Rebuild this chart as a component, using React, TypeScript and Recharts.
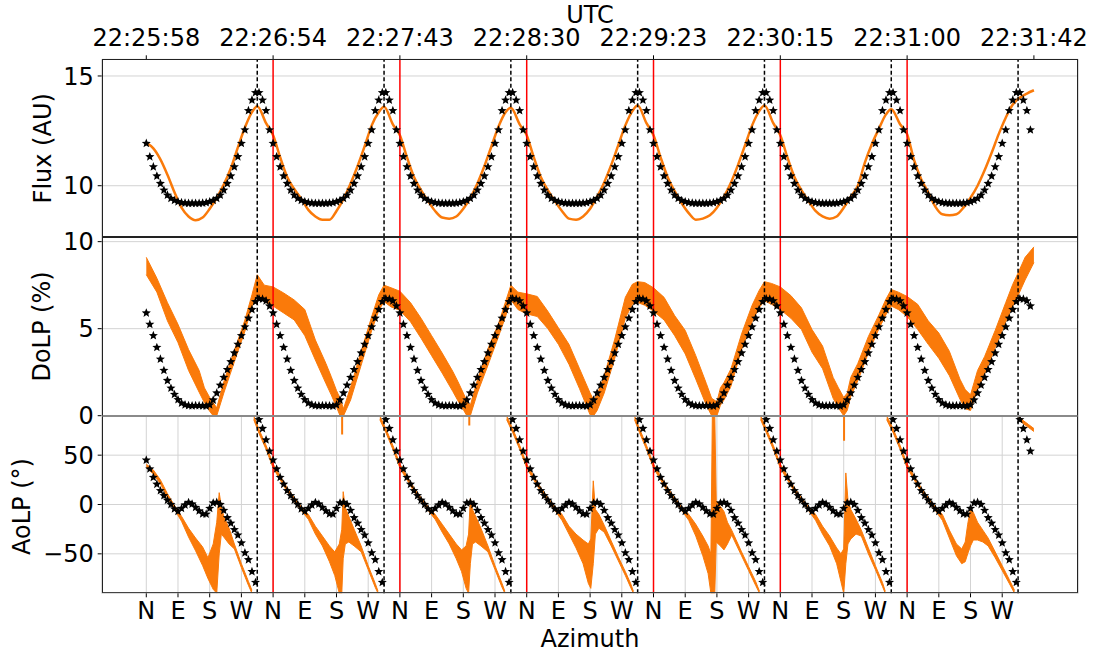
import { ComposedChart, Line, Area, Scatter, XAxis, YAxis, CartesianGrid, ReferenceLine } from 'recharts'

const W = 1096
const H = 657
const PLOT_LEFT = 101.7
const PLOT_RIGHT = 1078.3
const FLUX_TOP = 59.3
const DOLP_TOP = 237.3
const AOLP_TOP = 415.7
const AOLP_BOTTOM = 593.3
const Y_AXIS_W = 60
const FONT = 'DejaVu Sans'
const ORANGE = '#fa7a0a'

// x axis is accumulated azimuth (deg), one rotation = 360
const ROTATIONS = 7
const X_DOMAIN = [-126.6, 2646]
const CARDINALS = ['N', 'E', 'S', 'W']
const CARDINAL_AZ = [0, 90, 180, 270]
const UTC_LABELS = ['22:25:58', '22:26:54', '22:27:43', '22:28:30', '22:29:23', '22:30:15', '22:31:00', '22:31:42']
const SUN_AZ = 315 // dashed line inside each rotation

// model (stars), one value per 10 deg, same for every rotation
const MODEL_AZ = [0, 10, 20, 30, 40, 50, 60, 70, 80, 90, 100, 110, 120, 130, 140, 150, 160, 170,
  180, 190, 200, 210, 220, 230, 240, 250, 260, 270, 280, 290, 300, 310, 320, 330, 340, 350]
const MODEL_FLUX = [11.93, 11.32, 10.86, 10.44, 10.1, 9.8, 9.57, 9.42, 9.33, 9.27, 9.23, 9.21, 9.2, 9.2, 9.2, 9.2, 9.21, 9.23,
  9.27, 9.33, 9.42, 9.57, 9.8, 10.1, 10.44, 10.86, 11.32, 11.93, 12.54, 13.42, 13.9, 14.24, 14.24, 13.9, 13.42, 12.54]
const MODEL_DOLP = [5.9, 5.25, 4.6, 3.92, 3.25, 2.6, 2.02, 1.58, 1.22, 0.92, 0.72, 0.62, 0.58, 0.57, 0.58, 0.58, 0.57, 0.55,
  0.62, 0.9, 1.3, 1.75, 2.2, 2.65, 3.1, 3.6, 4.1, 4.6, 5.1, 5.6, 6.1, 6.55, 6.72, 6.7, 6.6, 6.3]
const MODEL_AOLP = [45, 36, 27.5, 20.5, 14, 9, 4.3, 0, -4.5, -7, -4, -0.5, 2, 0.5, -3, -6.5, -9.5, -9.8,
  -4, 1.5, 2.2, 0, -6, -13.5, -19, -25.5, -31, -39, -49, -56, -68, -79, 86, 77, 65.5, 54]

// measured flux, per rotation
const FLUX_AZ = [0, 20, 40, 60, 80, 100, 120, 140, 160, 180, 200, 220, 240, 260, 280, 300, 315, 340]
const FLUX_OBS = [
  [11.95, 11.7, 11.2, 10.5, 9.7, 9.0, 8.6, 8.43, 8.55, 8.95, 9.45, 10.05, 10.8, 11.75, 12.65, 13.35, 13.62, 12.85],
  [12.3, 11.3, 10.4, 9.85, 9.4, 8.9, 8.6, 8.45, 8.45, 8.85, 9.4, 10.1, 10.9, 11.8, 12.75, 13.35, 13.6, 12.8],
  [12.3, 11.3, 10.4, 9.8, 9.3, 8.85, 8.55, 8.5, 8.6, 8.95, 9.45, 10.1, 10.9, 11.8, 12.7, 13.35, 13.55, 12.8],
  [12.3, 11.3, 10.4, 9.8, 9.3, 8.85, 8.5, 8.45, 8.6, 8.95, 9.5, 10.15, 10.95, 11.85, 12.75, 13.4, 13.65, 12.85],
  [12.3, 11.3, 10.4, 9.75, 9.2, 8.75, 8.45, 8.5, 8.65, 9.0, 9.5, 10.15, 10.95, 11.85, 12.75, 13.4, 13.65, 12.85],
  [12.3, 11.3, 10.4, 9.8, 9.3, 8.85, 8.6, 8.5, 8.6, 9.0, 9.5, 10.0, 11.05, 11.9, 12.6, 13.25, 13.48, 12.8],
  [12.35, 11.15, 10.3, 9.7, 9.05, 8.7, 8.66, 8.7, 9.0, 9.45, 10.0, 10.7, 11.5, 12.35, 13.1, 13.7, 13.95, 14.2],
]
const FLUX_END = 14.35

// measured DoLP band (low / high edge), per rotation
const DOLP_AZ = [0, 30, 60, 90, 120, 150, 165, 180, 190, 200, 220, 250, 280, 300, 315, 335]
const DOLP_LOW = [
  [8.1, 7.1, 5.45, 4.2, 2.6, 1.35, 0.75, 0.25, 0.0, 0.0, 1.3, 3.1, 4.85, 6.3, 6.9, 6.55],
  [6.3, 5.9, 5.5, 4.6, 3.2, 1.85, 1.2, 0.5, 0.0, 0.0, 0.9, 2.9, 4.9, 6.05, 6.55, 6.25],
  [6.05, 5.4, 4.45, 3.45, 2.45, 1.4, 0.85, 0.35, 0.0, 0.0, 1.3, 2.9, 4.55, 5.7, 6.65, 6.1],
  [5.85, 5.7, 5.0, 4.1, 2.95, 1.55, 0.8, 0.05, 0.0, 0.3, 1.3, 3.3, 5.6, 6.4, 6.5, 6.35],
  [6.0, 5.5, 4.6, 3.55, 2.1, 0.6, 0.0, 0.0, 0.6, 0.9, 1.7, 3.8, 5.4, 6.2, 6.6, 6.4],
  [6.1, 5.6, 4.95, 3.65, 2.7, 1.0, 0.45, 0.0, 0.3, 1.1, 2.0, 3.6, 5.0, 5.8, 6.3, 6.1],
  [5.7, 4.95, 4.1, 3.3, 2.3, 0.95, 0.4, 0.3, 0.9, 1.5, 2.4, 3.9, 5.4, 6.3, 6.9, 7.8],
]
const DOLP_HIGH = [
  [9.1, 7.9, 6.5, 5.25, 3.8, 2.6, 1.6, 1.05, 0.75, 0.45, 1.95, 3.75, 5.5, 6.95, 8.1, 7.5],
  [7.4, 7.05, 6.65, 6.1, 4.35, 3.0, 2.25, 1.45, 1.0, 0.4, 1.65, 3.7, 5.7, 6.95, 7.5, 7.35],
  [7.15, 6.5, 5.6, 4.6, 3.6, 2.55, 1.95, 1.3, 0.85, 0.6, 2.05, 3.85, 5.3, 6.55, 7.5, 7.1],
  [7.0, 6.85, 6.0, 5.05, 4.1, 2.7, 2.0, 1.3, 0.9, 1.2, 2.3, 4.4, 6.8, 7.55, 7.7, 7.65],
  [7.35, 6.8, 5.75, 4.9, 3.45, 1.85, 1.0, 0.8, 1.6, 1.9, 2.7, 4.7, 6.35, 7.2, 7.7, 7.6],
  [7.4, 6.9, 6.2, 4.95, 4.0, 2.2, 1.6, 1.05, 1.3, 2.2, 3.0, 4.55, 5.8, 6.7, 7.25, 7.1],
  [6.85, 6.4, 5.45, 4.75, 3.7, 2.1, 1.5, 1.2, 1.9, 2.6, 3.4, 4.9, 6.5, 7.55, 8.2, 9.1],
]
const DOLP_END = [8.8, 9.7]

// measured AoLP band per rotation: [az, low, high]; null marks the +-90 wrap
const AOLP_OBS = [
  [[0, 37.5, 41], [20, 31, 35], [40, 21, 25], [60, 7, 11], [80, -5, -1], [100, -17, -12], [120, -33, -24], [140, -47, -34],
    [160, -62, -43], [175, -75, -54], [190, -86, -40], [200, -90, -18], [207, -50, 12], [213, -30, -2], [220, -33, -12],
    [235, -40, -24], [250, -45, -40], [270, -64, -60], [290, -82, -78], [300, -90, -87], [302, null, null], [305, 86, 90],
    [320, 72, 76], [340, 56, 60]],
  [[0, 37, 41], [20, 25, 29], [40, 13, 17], [60, 3, 7], [80, -6, -2], [100, -15, -10], [120, -30, -22], [140, -42, -32],
    [160, -58, -42], [175, -72, -48], [188, -90, -40], [195, -90, -25], [199, -55, 13], [205, -40, -3], [215, -38, -12],
    [230, -42, -25], [250, -48, -42], [270, -66, -62], [290, -84, -80], [298, -90, -88], [300, null, null], [303, 86, 90],
    [320, 73, 77], [340, 56, 60]],
  [[0, 37, 41], [20, 25, 29], [40, 13, 17], [60, 3, 7], [80, -6, -2], [100, -15, -10], [120, -28, -20], [140, -40, -30],
    [160, -55, -40], [175, -68, -46], [188, -85, -42], [195, -90, -30], [200, -60, 6], [206, -40, -5], [215, -38, -12],
    [230, -42, -24], [250, -48, -42], [270, -66, -62], [290, -84, -80], [298, -90, -88], [300, null, null], [303, 86, 90],
    [320, 73, 77], [340, 56, 60]],
  [[0, 37, 41], [20, 25, 29], [40, 13, 17], [60, 3, 7], [80, -6, -2], [100, -16, -10], [120, -30, -22], [140, -44, -30],
    [160, -60, -36], [175, -80, -40], [182, -85, -35], [189, -60, 24], [195, -30, -5], [205, -24, -10], [220, -28, -21],
    [240, -42, -37], [260, -57, -53], [280, -72, -68], [295, -84, -80], [303, -90, -88], [304, null, null], [306, 86, 90],
    [320, 73, 77], [340, 56, 60]],
  [[0, 37, 41], [20, 25, 29], [40, 13, 17], [60, 3, 7], [80, -6, -2], [100, -16, -10], [120, -32, -20], [140, -52, -32],
    [155, -70, -42], [163, -90, -50], [167, -90, 90], [174, -90, 90], [178, -38, 4], [190, -42, -2], [200, -46, -7],
    [210, -40, -18], [222, -31, -26], [250, -52, -48], [270, -67, -63], [290, -82, -78], [301, -90, -88], [302, null, null],
    [304, 86, 90], [320, 73, 77], [340, 56, 60]],
  [[0, 37, 41], [20, 25, 29], [40, 13, 17], [60, 3, 7], [80, -6, -2], [100, -16, -10], [120, -30, -22], [140, -42, -32],
    [160, -60, -44], [172, -78, -50], [180, -90, -45], [186, -60, 32], [192, -40, 5], [200, -35, -5], [215, -30, -15],
    [230, -32, -26], [250, -50, -44], [270, -66, -62], [290, -83, -79], [298, -90, -88], [300, null, null], [302, 86, 90],
    [320, 73, 77], [340, 56, 60]],
  [[0, 37, 41], [20, 25, 29], [40, 13, 17], [60, 3, 7], [80, -6, -2], [100, -16, -10], [120, -34, -26], [140, -52, -40],
    [155, -60, -45], [165, -58, -38], [172, -50, -20], [180, -42, -4], [188, -36, -8], [200, -36, -18], [215, -38, -26],
    [230, -42, -34], [250, -54, -48], [270, -67, -62], [290, -80, -76], [305, -90, -87], [306, null, null], [316, 86, 90],
    [330, 82, 85], [345, 78, 81], [360, 74, 77]],
]
// thin AoLP spikes hanging from +90 where the angle wrapped
const WRAP_AZ = [556, 917, 1981]
const WRAP_END = [71, 80, 64.5]

const rotationStarts = Array.from({ length: ROTATIONS }, (_, r) => r * 360)
const cardinalTicks = rotationStarts.flatMap((s) => CARDINAL_AZ.map((a) => s + a))
const utcTicks = [...rotationStarts, ROTATIONS * 360]
const redLines = rotationStarts.slice(1)
const dashedLines = rotationStarts.map((s) => s + SUN_AZ)

const modelSeries = (vals: number[]) =>
  rotationStarts.flatMap((s) => MODEL_AZ.map((az, i) => ({ x: s + az, y: vals[i] })))

const fluxData = [
  ...FLUX_OBS.flatMap((row, r) => FLUX_AZ.map((az, i) => ({ x: r * 360 + az, y: row[i] }))),
  { x: ROTATIONS * 360, y: FLUX_END },
]
const dolpData = [
  ...DOLP_LOW.flatMap((row, r) => DOLP_AZ.map((az, i) => ({ x: r * 360 + az, band: [row[i], DOLP_HIGH[r][i]] }))),
  { x: ROTATIONS * 360, band: DOLP_END },
]
const aolpData = AOLP_OBS.flatMap((rows, r) =>
  rows.map(([az, lo, hi]) => ({ x: r * 360 + (az as number), band: lo == null ? null : [lo, hi] }))
)
const wrapData = WRAP_AZ.flatMap((az, i) => [
  { x: az, y: 90 },
  { x: az, y: WRAP_END[i] },
  { x: az + 1, y: null },
])

const tickStyle = { fontSize: 24, fill: '#000', fontFamily: FONT }
const minus = (v: number) => (v < 0 ? `\u2212${-v}` : String(v))

function renderStar(props: any) {
  const { cx, cy } = props
  if (cx == null || cy == null) return <g />
  const pts: string[] = []
  for (let i = 0; i < 10; i++) {
    const r = i % 2 === 0 ? 4.8 : 2.1
    const a = -Math.PI / 2 + (i * Math.PI) / 5
    pts.push(`${cx + r * Math.cos(a)},${cy + r * Math.sin(a)}`)
  }
  return <polygon points={pts.join(' ')} fill="#000" />
}

const refLines = () => [
  ...redLines.map((x) => <ReferenceLine key={'r' + x} x={x} stroke="#ff0000" strokeWidth={1.5} />),
  ...dashedLines.map((x) => (
    <ReferenceLine key={'d' + x} x={x} stroke="#000" strokeWidth={1.5} strokeDasharray="4 2.5" />
  )),
]

const hiddenX = (
  <XAxis dataKey="x" type="number" domain={X_DOMAIN} allowDataOverflow ticks={cardinalTicks}
    height={0} tick={false} tickLine={false} axisLine={false} />
)

function yAxis(domain: number[], ticks: number[]) {
  return (
    <YAxis type="number" domain={domain} allowDataOverflow ticks={ticks} width={Y_AXIS_W}
      tick={tickStyle} tickFormatter={minus} tickSize={4} tickMargin={4} stroke="#000" axisLine={false} interval={0} />
  )
}

const layer = { position: 'absolute' as const, left: 0, top: 0 }
const sideMargin = { left: PLOT_LEFT - Y_AXIS_W, right: W - PLOT_RIGHT }

export default function App() {
  const frame = (top: number, bottom: number, bottomColor: string, topColor: string) => (
    <div style={{
      position: 'absolute', left: PLOT_LEFT, top, width: PLOT_RIGHT - PLOT_LEFT, height: bottom - top,
      boxSizing: 'border-box', borderLeft: '1px solid #222', borderRight: '1px solid #222',
      borderTop: `1px solid ${topColor}`, borderBottom: `1.5px solid ${bottomColor}`,
    }} />
  )

  return (
    <div style={{ position: 'absolute', left: 0, top: 0, width: W, height: H, background: '#fff', fontFamily: FONT }}>
      {/* Flux */}
      <div style={layer}>
        <ComposedChart width={W} height={H} data={fluxData}
          margin={{ ...sideMargin, top: FLUX_TOP - 40, bottom: H - DOLP_TOP }}>
          <CartesianGrid stroke="#d3d3d3" />
          {hiddenX}
          <XAxis xAxisId="top" orientation="top" dataKey="x" type="number" domain={X_DOMAIN} allowDataOverflow
            ticks={utcTicks} interval={0} height={40} tick={tickStyle} tickSize={4} tickMargin={9}
            stroke="#000" axisLine={false} tickFormatter={(v: number) => UTC_LABELS[utcTicks.indexOf(v)]} />
          {yAxis([7.65, 15.76], [10, 15])}
          <Line dataKey="y" type="monotone" stroke={ORANGE} strokeWidth={2.5} dot={false} activeDot={false}
            isAnimationActive={false} />
          {refLines()}
          <Scatter data={modelSeries(MODEL_FLUX)} dataKey="y" shape={renderStar} isAnimationActive={false} />
        </ComposedChart>
      </div>

      {/* DoLP */}
      <div style={layer}>
        <ComposedChart width={W} height={H} data={dolpData}
          margin={{ ...sideMargin, top: DOLP_TOP, bottom: H - AOLP_TOP }}>
          <CartesianGrid stroke="#d3d3d3" />
          {hiddenX}
          {yAxis([0, 10.25], [0, 5, 10])}
          <Area dataKey="band" type="linear" stroke={ORANGE} strokeWidth={1} fill={ORANGE} fillOpacity={1}
            dot={false} activeDot={false} isAnimationActive={false} />
          {refLines()}
          <Scatter data={modelSeries(MODEL_DOLP)} dataKey="y" shape={renderStar} isAnimationActive={false} />
        </ComposedChart>
      </div>

      {/* AoLP */}
      <div style={layer}>
        <ComposedChart width={W} height={H} data={aolpData}
          margin={{ ...sideMargin, top: AOLP_TOP, bottom: H - AOLP_BOTTOM - 40 }}>
          <CartesianGrid stroke="#d3d3d3" />
          <XAxis dataKey="x" type="number" domain={X_DOMAIN} allowDataOverflow ticks={cardinalTicks} interval={0}
            height={40} tick={tickStyle} tickSize={4} tickMargin={5} stroke="#000" axisLine={false}
            tickFormatter={(v: number) => CARDINALS[CARDINAL_AZ.indexOf(((v % 360) + 360) % 360)]} />
          {yAxis([-90, 90], [-50, 0, 50])}
          <Area dataKey="band" type="linear" stroke={ORANGE} strokeWidth={1} fill={ORANGE} fillOpacity={1}
            dot={false} activeDot={false} isAnimationActive={false} />
          <Line data={wrapData} dataKey="y" type="linear" stroke={ORANGE} strokeWidth={2} dot={false}
            activeDot={false} isAnimationActive={false} />
          {refLines()}
          <Scatter data={modelSeries(MODEL_AOLP)} dataKey="y" shape={renderStar} isAnimationActive={false} />
        </ComposedChart>
      </div>

      {frame(FLUX_TOP, DOLP_TOP, '#222', '#222')}
      {frame(DOLP_TOP, AOLP_TOP, '#8a8a8a', '#222')}
      {frame(AOLP_TOP, AOLP_BOTTOM, '#444', '#8a8a8a')}

      <svg width={W} height={H} style={{ ...layer, pointerEvents: 'none' }} fontFamily={FONT} fontSize={24}>
        <text x={(PLOT_LEFT + PLOT_RIGHT) / 2} y={23} textAnchor="middle">UTC</text>
        <text x={(PLOT_LEFT + PLOT_RIGHT) / 2} y={647} textAnchor="middle">Azimuth</text>
        <text x={51} y={(FLUX_TOP + DOLP_TOP) / 2} textAnchor="middle"
          transform={`rotate(-90 51 ${(FLUX_TOP + DOLP_TOP) / 2})`}>Flux (AU)</text>
        <text x={50.3} y={(DOLP_TOP + AOLP_TOP) / 2} textAnchor="middle"
          transform={`rotate(-90 50.3 ${(DOLP_TOP + AOLP_TOP) / 2})`}>DoLP (%)</text>
        <text x={30.2} y={(AOLP_TOP + AOLP_BOTTOM) / 2 + 2} textAnchor="middle"
          transform={`rotate(-90 30.2 ${(AOLP_TOP + AOLP_BOTTOM) / 2 + 2})`}>AoLP (°)</text>
      </svg>
    </div>
  )
}
